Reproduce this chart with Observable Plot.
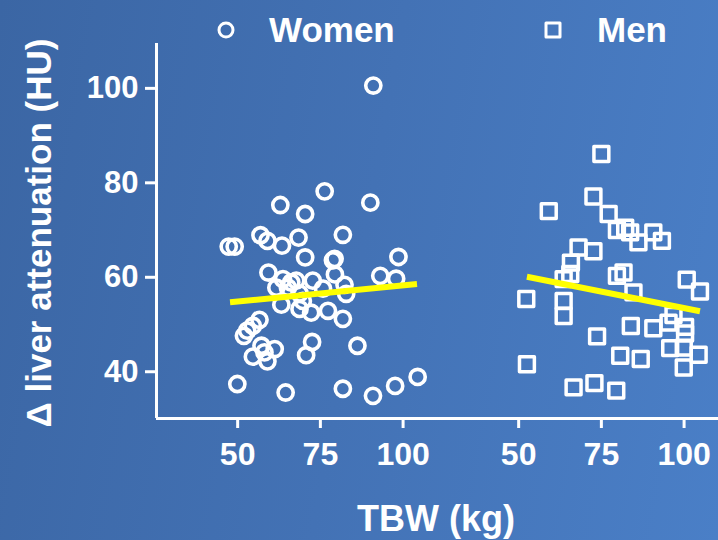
<!DOCTYPE html>
<html><head><meta charset="utf-8">
<script src="https://cdn.jsdelivr.net/npm/d3@7"></script>
<script src="https://cdn.jsdelivr.net/npm/@observablehq/plot@0.6"></script>
<style>
html,body{margin:0;padding:0;}
#root{position:relative;width:718px;height:540px;overflow:hidden;
 background:linear-gradient(100deg,#3b66a4 0%,#4372b5 50%,#4a7fc7 100%);
 font-family:"Liberation Sans",Arial,sans-serif;font-weight:bold;color:#fff;}
#chart{position:absolute;left:0;top:43px;}
.t{position:absolute;white-space:nowrap;line-height:1;}
svg.sym{position:absolute;overflow:visible;}
</style></head><body><div id="root"></div>
<script>
// ---- data ----
const groups = ["Women", "Men"];
const legendLabels = ["Women", "Men"];
const xTicks = [50, 75, 100];
const yTicks = [40, 60, 80, 100];
const xTitle = "TBW (kg)";
const yTitle = "\u0394 liver attenuation (HU)";

const womenTBW = [91.0, 76.3, 90.1, 62.9, 70.4, 81.8, 56.9, 59.0, 63.4, 68.4, 47.3, 49.1, 70.4, 78.8, 79.3, 98.6,
  59.3, 79.4, 93.1, 97.9, 63.7, 67.7, 72.7, 82.3, 61.7, 65.2, 75.8, 68.7, 82.8, 63.2, 68.7, 72.2, 77.3, 81.8,
  56.6, 54.6, 52.9, 51.9, 57.2, 61.2, 54.6, 58.1, 59.0, 72.5, 70.7, 86.2, 49.9, 64.5, 81.8, 90.9, 97.6, 104.4,
  66.2, 69.7];
const womenHU = [100.6, 78.2, 75.8, 75.3, 73.4, 69.0, 68.9, 67.7, 66.7, 68.4, 66.5, 66.5, 64.2, 63.6, 63.9, 64.3,
  61.0, 60.6, 60.3, 59.7, 59.6, 59.3, 59.3, 58.4, 57.8, 57.8, 57.6, 56.6, 56.5, 54.2, 53.3, 52.5, 52.9, 51.2,
  51.0, 49.7, 48.7, 47.6, 45.5, 44.8, 43.2, 44.1, 42.2, 46.3, 43.5, 45.5, 37.4, 35.6, 36.4, 34.9, 37.0, 38.9,
  58.9, 55.0];

const menTBW = [75.0, 72.6, 59.1, 77.2, 79.7, 82.2, 83.7, 90.7, 93.3, 86.2, 68.1, 72.6, 65.8, 65.6, 63.6, 81.7,
  79.7, 84.7, 52.3, 63.6, 63.6, 100.8, 104.8, 73.7, 83.9, 90.7, 95.3, 96.8, 100.3, 100.3, 95.8, 99.9, 104.4,
  80.7, 86.9, 99.9, 52.5, 66.6, 72.9, 79.5];
const menHU = [86.1, 77.1, 74.0, 73.4, 70.0, 70.5, 69.5, 69.5, 67.7, 67.4, 66.3, 65.5, 63.1, 60.7, 59.6, 61.0,
  60.3, 56.8, 55.4, 55.0, 51.8, 59.5, 57.0, 47.5, 49.7, 49.2, 50.4, 52.0, 49.5, 48.1, 45.0, 45.1, 43.6,
  43.4, 42.7, 40.9, 41.6, 36.7, 37.6, 36.0];

// fitted trend lines (end points)
const womenFitTBW = [47.7, 104.2];
const womenFitHU = [54.7, 58.6];
const menFitTBW = [52.5, 104.8];
const menFitHU = [60.1, 52.8];

const xDomain = [25.47, 110.4];
const yDomain = [30.1, 109.5];

// ---- build tables ----
const women = womenTBW.map((x, i) => ({sex: "Women", tbw: x, hu: womenHU[i]}));
const men = menTBW.map((x, i) => ({sex: "Men", tbw: x, hu: menHU[i]}));
const fits = [
  ...womenFitTBW.map((x, i) => ({sex: "Women", tbw: x, hu: womenFitHU[i]})),
  ...menFitTBW.map((x, i) => ({sex: "Men", tbw: x, hu: menFitHU[i]}))
];

const WHITE = "#ffffff";
const FONT = "'Liberation Sans', Arial, sans-serif";

const chart = Plot.plot({
  width: 718, height: 440,
  marginLeft: 155, marginRight: 0, marginTop: 0, marginBottom: 65,
  style: {background: "transparent", color: WHITE, fontFamily: FONT, fontWeight: "bold", overflow: "visible"},
  fx: {domain: groups, padding: 0, axis: null, label: null},
  x: {domain: xDomain, label: null},
  y: {domain: yDomain, label: null},
  marks: [
    Plot.ruleY([yDomain[0]], {stroke: WHITE, strokeWidth: 3}),
    Plot.ruleX([{sex: "Women", x: xDomain[0]}], {x: "x", fx: "sex", y1: yDomain[0], y2: yDomain[1], stroke: WHITE, strokeWidth: 3}),
    Plot.axisX({ticks: xTicks, tickSize: 10, tickPadding: 14, fontSize: 32, strokeWidth: 3, label: null}),
    Plot.axisY({ticks: yTicks, tickSize: 11, tickPadding: 7, fontSize: 31, strokeWidth: 3, label: null}),
    Plot.dot(women, {x: "tbw", y: "hu", fx: "sex", symbol: "circle", r: 7.6, stroke: WHITE, strokeWidth: 3.6, fill: "none"}),
    Plot.dot(men, {x: "tbw", y: "hu", fx: "sex", symbol: "square", r: 8.4, stroke: WHITE, strokeWidth: 3.5, fill: "none", strokeLinejoin: "round"}),
    Plot.line(fits, {x: "tbw", y: "hu", fx: "sex", z: "sex", stroke: "#ffff00", strokeWidth: 6, strokeLinecap: "butt"})
  ]
});
chart.id = "chart";

const root = document.getElementById("root");
root.appendChild(chart);

function addText(txt, left, top, size, extra) {
  const d = document.createElement("div");
  d.className = "t";
  d.textContent = txt;
  d.style.left = left + "px";
  d.style.top = top + "px";
  d.style.fontSize = size + "px";
  if (extra) Object.assign(d.style, extra);
  root.appendChild(d);
  return d;
}
function addSymbol(kind, cx, cy) {
  const ns = "http://www.w3.org/2000/svg";
  const s = document.createElementNS(ns, "svg");
  s.setAttribute("class", "sym");
  s.setAttribute("width", 24); s.setAttribute("height", 24);
  s.style.left = (cx - 12) + "px"; s.style.top = (cy - 12) + "px";
  let el;
  if (kind === "circle") {
    el = document.createElementNS(ns, "circle");
    el.setAttribute("cx", 12); el.setAttribute("cy", 12); el.setAttribute("r", 7);
  } else {
    el = document.createElementNS(ns, "rect");
    el.setAttribute("x", 5); el.setAttribute("y", 5); el.setAttribute("width", 14); el.setAttribute("height", 14);
    el.setAttribute("stroke-linejoin", "round");
  }
  el.setAttribute("fill", "none"); el.setAttribute("stroke", WHITE); el.setAttribute("stroke-width", 3);
  s.appendChild(el);
  root.appendChild(s);
}

// legend
addSymbol("circle", 226, 30);
addText(legendLabels[0], 269, 12, 35);
addSymbol("square", 553, 30);
addText(legendLabels[1], 597, 12, 35);

// axis titles
addText(xTitle, 436, 500.5, 36, {transform: "translateX(-50%)"});
addText(yTitle, 38, 233, 35, {transform: "translate(-50%,-50%) rotate(-90deg)"});
</script>
</body></html>
